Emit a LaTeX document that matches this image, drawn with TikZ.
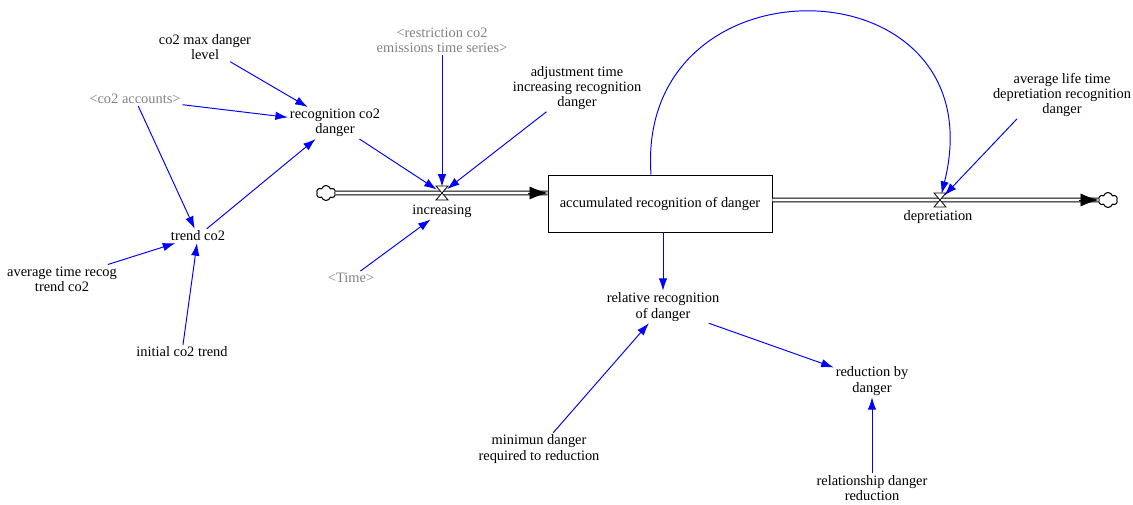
\documentclass[tikz,border=0pt]{standalone}
\usepackage{fontspec}
\setmainfont{Liberation Serif}
\usetikzlibrary{arrows.meta,shapes.symbols}

\definecolor{shadowgray}{RGB}{130,130,130}

\tikzset{
  var/.style={align=center, inner sep=1pt, font=\fontsize{8.2}{8.6}\selectfont},
  shadowvar/.style={var, text=shadowgray},
  link/.style={blue, line width=0.55pt, -{Latex[length=2.5mm,width=1.7mm]}},
  pipe/.style={draw=black, double=white, line width=0.55pt, double distance=1.5pt},
  pipehead/.style={black, line width=0.4pt, -{Latex[length=0.36cm,width=0.26cm]}},
  valve/.style={circle, inner sep=0pt, minimum size=0.24cm},
  sink/.style={cloud, draw, cloud puffs=6, aspect=1.3, inner sep=0pt, minimum width=0.38cm, minimum height=0.3cm, line width=0.6pt}
}

\begin{document}
\begin{tikzpicture}[x=0.02cm, y=-0.02cm]
		\useasboundingbox (0,0) rectangle (1133,504);

		%%% Variables
		\node[var] (maxlevel) at (205,47) {co2 max danger\\level};
		\node[shadowvar] (accounts) at (135,99) {<co2 accounts>};
		\node[var] (recog) at (335,123) {recognition co2\\danger};
		\node[shadowvar] (restrict) at (442,40) {<restriction co2\\emissions time series>};
		\node[var] (adjtime) at (577,88) {adjustment time\\increasing recognition\\danger};
		\node[var] (trend) at (198,236) {trend co2};
		\node[var] (avgrecog) at (62,279) {average time recog\\trend co2};
		\node[var] (inittrend) at (182,352) {initial co2 trend};
		\node[shadowvar] (time) at (351,278) {<Time>};
		\node[var] (avglife) at (1062,95) {average life time\\depretiation recognition\\danger};
		\node[var] (relative) at (663,307) {relative recognition\\of danger};
		\node[var] (reduction) at (872,381) {reduction by\\danger};
		\node[var] (minimun) at (539,449) {minimun danger\\required to reduction};
		\node[var] (relation) at (872,488) {relationship danger\\reduction};

		%%% Stock, valves and clouds
		\node[draw, line width=0.5pt, minimum width=4.48cm, minimum height=1.14cm, font=\fontsize{8.2}{8.6}\selectfont] (box) at (660,203.5) {accumulated recognition of danger};
		\node[sink] (cloudL) at (326,193) {};
		\node[sink] (cloudR) at (1108,200) {};
		\node[valve] (vin) at (442,193) {};
		\node[valve] (vout) at (940,200) {};
		\node[var] (increasing) at (442,211) {increasing};
		\node[var] (depret) at (938,217) {depretiation};

		%%% Flows
		\draw[pipe] (cloudL.east) -- (box.west |- cloudL);
		\draw[pipehead] ([xshift=-0.4cm]box.west |- cloudL) -- (box.west |- cloudL);
		\draw[pipe] (box.east |- vout) -- (cloudR.west);
		\draw[pipehead] ([xshift=-0.4cm]cloudR.west) -- (cloudR.west);

		\draw[fill=white, line width=0.45pt] (vin) ++(-6,-7) -- ++(12,0) -- ++(-12,14) -- ++(12,0) -- cycle;
		\draw[fill=white, line width=0.45pt] (vout) ++(-6,-7) -- ++(12,0) -- ++(-12,14) -- ++(12,0) -- cycle;

		%%% Links
		\draw[link] (maxlevel) -- (recog);
		\draw[link] (accounts) -- (recog);
		\draw[link] (accounts) -- (trend);
		\draw[link] (trend) -- (recog);
		\draw[link] (avgrecog) -- (trend);
		\draw[link] (inittrend) -- (trend);
		\draw[link] (recog) -- (vin);
		\draw[link] (restrict) -- (vin);
		\draw[link] (adjtime) -- (vin);
		\draw[link] (time) -- (increasing);
		\draw[link] (box.south -| relative.north) -- (relative.north);
		\draw[link] (relative) -- (reduction);
		\draw[link] (minimun) -- (relative);
		\draw[link] (relation) -- (reduction);
		\draw[link] ([xshift=-0.9cm]avglife.south) -- (vout);
		\draw[link] ([xshift=-0.18cm]box.north) .. controls (635,-50) and (1000,-40) .. (vout);
\end{tikzpicture}
\end{document}
